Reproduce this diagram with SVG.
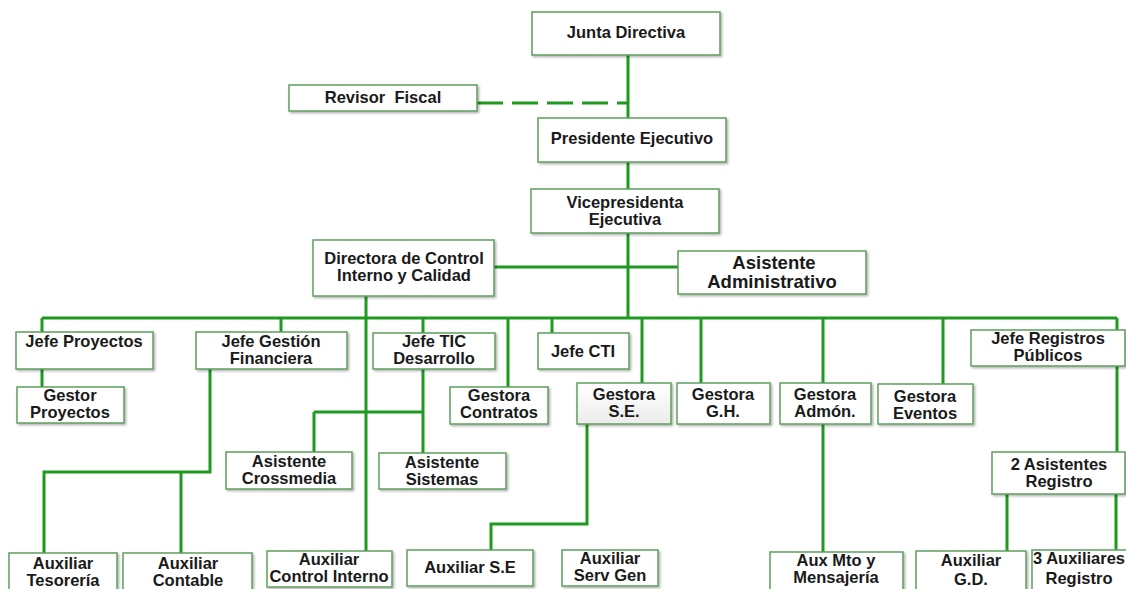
<svg xmlns="http://www.w3.org/2000/svg" width="1126" height="589" viewBox="0 0 1126 589">
<defs>
<filter id="sh" x="-5%" y="-10%" width="115%" height="130%">
<feDropShadow dx="1.5" dy="1.5" stdDeviation="1" flood-color="#000" flood-opacity="0.3"/>
</filter>
<linearGradient id="gr" x1="0" y1="0" x2="0" y2="1">
<stop offset="0" stop-color="#ffffff"/>
<stop offset="1" stop-color="#ececec"/>
</linearGradient>
</defs>
<style>
.b{fill:#fff;stroke:#5e9e5e;stroke-width:1.5;filter:url(#sh)}
.g{fill:url(#gr)}
.t{font-family:"Liberation Sans",Arial,sans-serif;font-weight:bold;font-size:16.5px;fill:#1a1a1a;text-anchor:middle}
.L{font-size:18.5px}
.c{stroke:#1f991f;stroke-width:3;fill:none}
.d{stroke-dasharray:26 9}
</style>
<rect width="1126" height="589" fill="#fff"/>
<g id="connectors">
<path class="c" d="M628 55V318"/>
<path class="c d" d="M477 103H628"/>
<path class="c" d="M494 267H678"/>
<path class="c" d="M42 318H1117"/>
<path class="c" d="M42 318V332M281 318V332M423 318V333M508 318V387M552 318V333M642 318V383M701 318V383M823 318V383M943 318V384M1117 318V330"/>
<path class="c" d="M366 296V551"/>
<path class="c" d="M42 369V387"/>
<path class="c" d="M210 369V472H44V553M181 472V553"/>
<path class="c" d="M423 369V453M314 412H423M314 412V452"/>
<path class="c" d="M587 424V524H491V550"/>
<path class="c" d="M823 424V552"/>
<path class="c" d="M1117 366V452"/>
<path class="c" d="M1007 494V551M1116 494V550"/>
</g>
<g id="junta"><rect class="b" x="532" y="12" width="188" height="43"/><text class="t" x="626" y="38">Junta Directiva</text></g>
<g id="revisor"><rect class="b" x="289" y="85" width="188" height="26"/><text class="t" x="383" y="103" xml:space="preserve">Revisor  Fiscal</text></g>
<g id="presidente"><rect class="b" x="538" y="118" width="188" height="44"/><text class="t" x="632" y="144">Presidente Ejecutivo</text></g>
<g id="vicepresidenta"><rect class="b" x="531" y="189" width="188" height="44"/><text class="t" x="625" y="208">Vicepresidenta<tspan x="625" dy="17">Ejecutiva</tspan></text></g>
<g id="directora"><rect class="b" x="313" y="240" width="181" height="56"/><text class="t" x="404" y="264">Directora de Control<tspan x="404" dy="17">Interno y Calidad</tspan></text></g>
<g id="asistente-admin"><rect class="b" x="678" y="251" width="188" height="43"/><text class="t L" x="774" y="269">Asistente<tspan x="772" dy="19">Administrativo</tspan></text></g>
<g id="jefe-proyectos"><rect class="b" x="16" y="332" width="137" height="37"/><text class="t" x="84" y="347">Jefe Proyectos</text></g>
<g id="gestor-proyectos"><rect class="b" x="17" y="387" width="107" height="36"/><text class="t" x="70" y="401">Gestor<tspan x="70" dy="17">Proyectos</tspan></text></g>
<g id="jefe-gestion"><rect class="b" x="196" y="332" width="151" height="37"/><text class="t" x="271" y="347">Jefe Gestión<tspan x="271" dy="17">Financiera</tspan></text></g>
<g id="jefe-tic"><rect class="b" x="373" y="333" width="122" height="36"/><text class="t" x="434" y="347">Jefe TIC<tspan x="434" dy="17">Desarrollo</tspan></text></g>
<g id="gestora-contratos"><rect class="b" x="450" y="387" width="98" height="37"/><text class="t" x="499" y="401">Gestora<tspan x="499" dy="17">Contratos</tspan></text></g>
<g id="jefe-cti"><rect class="b" x="538" y="333" width="91" height="36"/><text class="t" x="583" y="357">Jefe CTI</text></g>
<g id="gestora-se"><rect class="b g" x="577" y="383" width="94" height="41"/><text class="t" x="624" y="400">Gestora<tspan x="624" dy="17">S.E.</tspan></text></g>
<g id="gestora-gh"><rect class="b" x="677" y="383" width="93" height="41"/><text class="t" x="723" y="400">Gestora<tspan x="723" dy="17">G.H.</tspan></text></g>
<g id="gestora-admon"><rect class="b" x="780" y="383" width="91" height="41"/><text class="t" x="825" y="400">Gestora<tspan x="825" dy="17">Admón.</tspan></text></g>
<g id="gestora-eventos"><rect class="b" x="878" y="384" width="95" height="40"/><text class="t" x="925" y="402">Gestora<tspan x="925" dy="17">Eventos</tspan></text></g>
<g id="jefe-registros"><rect class="b" x="971" y="330" width="154" height="36"/><text class="t" x="1048" y="344">Jefe Registros<tspan x="1048" dy="17">Públicos</tspan></text></g>
<g id="asistente-crossmedia"><rect class="b" x="226" y="452" width="126" height="37"/><text class="t" x="289" y="467">Asistente<tspan x="289" dy="17">Crossmedia</tspan></text></g>
<g id="asistente-sistemas"><rect class="b" x="379" y="453" width="127" height="36"/><text class="t" x="442" y="468">Asistente<tspan x="442" dy="17">Sistemas</tspan></text></g>
<g id="aux-tesoreria"><rect class="b" x="9" y="553" width="108" height="40"/><text class="t" x="63" y="569">Auxiliar<tspan x="63" dy="17">Tesorería</tspan></text></g>
<g id="aux-contable"><rect class="b" x="123" y="553" width="129" height="40"/><text class="t" x="188" y="569">Auxiliar<tspan x="188" dy="17">Contable</tspan></text></g>
<g id="aux-control"><rect class="b" x="267" y="551" width="125" height="36"/><text class="t" x="329" y="565">Auxiliar<tspan x="329" dy="17">Control Interno</tspan></text></g>
<g id="aux-se"><rect class="b" x="407" y="550" width="126" height="36"/><text class="t" x="470" y="573">Auxiliar S.E</text></g>
<g id="aux-servgen"><rect class="b" x="562" y="550" width="96" height="36"/><text class="t" x="610" y="564">Auxiliar<tspan x="610" dy="17">Serv Gen</tspan></text></g>
<g id="aux-mto"><rect class="b" x="770" y="552" width="133" height="38"/><text class="t" x="836" y="566">Aux Mto y<tspan x="836" dy="17">Mensajería</tspan></text></g>
<g id="dos-asistentes"><rect class="b" x="992" y="452" width="133" height="42"/><text class="t" x="1059" y="470">2 Asistentes<tspan x="1059" dy="17">Registro</tspan></text></g>
<g id="aux-gd"><rect class="b" x="916" y="551" width="110" height="45"/><text class="t" x="971" y="566">Auxiliar<tspan x="971" dy="19">G.D.</tspan></text></g>
<g id="tres-auxiliares"><rect class="b" x="1032" y="550" width="100" height="45"/><text class="t" x="1079" y="564">3 Auxiliares<tspan x="1079" dy="20">Registro</tspan></text></g>
</svg>
